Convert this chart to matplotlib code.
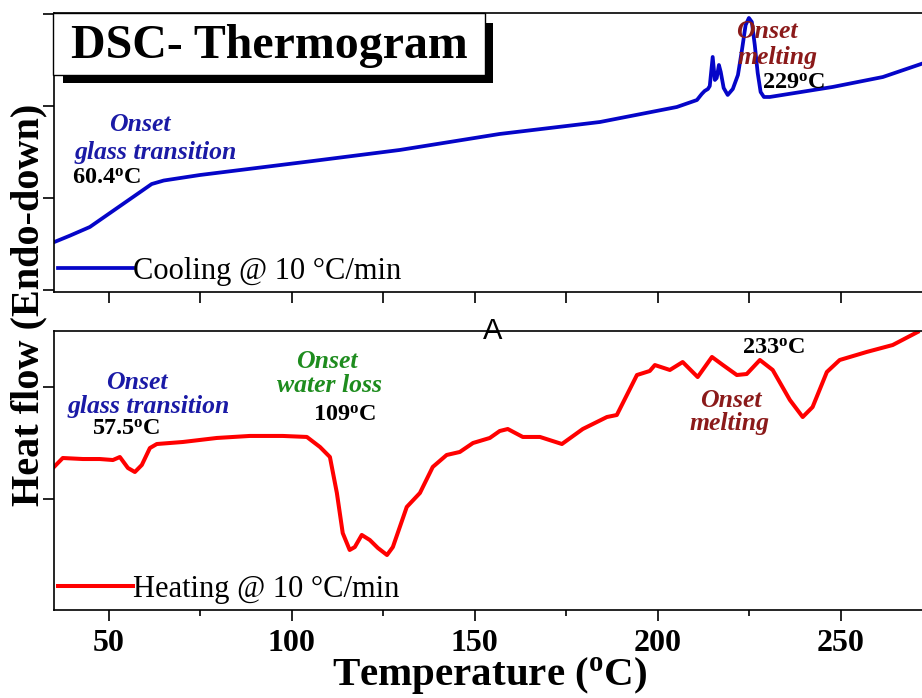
import matplotlib
matplotlib.use("Agg")
import matplotlib.pyplot as plt
from matplotlib.patches import Rectangle
from matplotlib.ticker import MultipleLocator

plt.rcParams['font.family'] = ['Liberation Serif', 'DejaVu Serif']
plt.rcParams['mathtext.fontset'] = 'custom'
plt.rcParams['mathtext.rm'] = 'Liberation Serif:bold'
plt.rcParams['mathtext.bf'] = 'Liberation Serif:bold'
plt.rcParams['mathtext.it'] = 'Liberation Serif:bold:italic'

# cooling curve (top panel), temperature in degC, heat flow in arb. units
cool_t = [35.0, 39.3, 44.8, 50.3, 56.6, 61.7, 65.0, 74.9, 105.7, 129.5, 156.8, 184.2,
          205.2, 210.7, 212.0, 212.8, 213.7, 214.2, 215.0, 215.6, 216.1, 216.7,
          217.2, 218.0, 219.1, 220.5, 221.9, 223.0, 224.0, 224.9, 225.7, 226.5,
          227.3, 228.1, 229.0, 230.6, 247.8, 261.5, 272.2]
cool_h = [0.52, 0.59, 0.685, 0.837, 1.011, 1.152, 1.19, 1.25, 1.402, 1.522, 1.696, 1.826,
          1.989, 2.065, 2.13, 2.163, 2.185, 2.217, 2.533, 2.283, 2.304, 2.446,
          2.37, 2.196, 2.12, 2.185, 2.337, 2.609, 2.88, 2.957, 2.913, 2.663,
          2.359, 2.152, 2.098, 2.098, 2.207, 2.315, 2.46]

# heating curve (bottom panel)
heat_t = [35.0, 37.4, 42.9, 47.5, 51.1, 53.0, 55.2, 57.1, 59.0, 61.2,
          63.1, 70.2, 79.5, 88.5, 97.5, 104.1, 107.7, 110.4, 112.3, 113.9,
          115.8, 117.2, 119.1, 121.3, 123.5, 126.0, 127.6, 131.4, 135.0, 138.5,
          142.3, 145.9, 149.5, 154.1, 156.8, 159.0, 163.1, 167.8, 173.8, 179.5,
          186.1, 188.8, 194.3, 197.8, 199.2, 203.3, 206.8, 210.9, 214.8, 217.8,
          221.6, 224.3, 227.9, 231.4, 236.1, 239.6, 242.3, 246.2, 249.7, 257.1,
          264.2, 271.0]
heat_h = [1.286, 1.366, 1.357, 1.357, 1.348, 1.375, 1.277, 1.241, 1.304, 1.455,
          1.491, 1.509, 1.545, 1.563, 1.563, 1.554, 1.464, 1.375, 1.054, 0.696,
          0.545, 0.571, 0.679, 0.634, 0.563, 0.5, 0.571, 0.929, 1.054, 1.286,
          1.393, 1.42, 1.5, 1.545, 1.607, 1.625, 1.554, 1.554, 1.491, 1.625,
          1.732, 1.75, 2.107, 2.143, 2.196, 2.152, 2.223, 2.089, 2.268, 2.196,
          2.107, 2.116, 2.241, 2.152, 1.884, 1.732, 1.821, 2.134, 2.241, 2.313,
          2.375, 2.491]

x_ticks = [50, 100, 150, 200, 250]
x_lim = (35, 272.2)

W, H = 922, 698
fig = plt.figure(figsize=(W / 100, H / 100), dpi=100)
fig.patch.set_facecolor('white')

def fx(x, y):
    return (x / W, 1 - y / H)

ax1 = fig.add_axes([54 / W, 1 - 292 / H, 868 / W, 279.3 / H])
ax2 = fig.add_axes([54 / W, 1 - 610 / H, 868 / W, 279 / H])

ax1.plot(cool_t, cool_h, color='#0505c8', lw=2.7, solid_joinstyle='round',
         label='Cooling @ 10 °C/min')
ax2.plot(heat_t, heat_h, color='#ff0000', lw=2.9, solid_joinstyle='round',
         label='Heating @ 10 °C/min')

ax1.set_ylim(-0.0217, 3.014)
ax2.set_ylim(0.009, 2.5)

for ax in (ax1, ax2):
    ax.set_xlim(*x_lim)
    ax.set_xticks(x_ticks)
    ax.xaxis.set_minor_locator(MultipleLocator(25))
    ax.yaxis.set_major_locator(MultipleLocator(1))
    ax.set_yticklabels([])
    ax.spines['right'].set_visible(False)
    for s in ('left', 'top', 'bottom'):
        ax.spines[s].set_linewidth(1.2)
    ax.tick_params(axis='y', which='major', direction='out', length=8, width=1.2,
                   right=False)
    ax.tick_params(axis='x', which='both', direction='out', width=1.2, top=False)
    ax.legend(loc='center left', frameon=False, fontsize=22, handlelength=2.45,
              handletextpad=0.0, borderpad=0, borderaxespad=0,
              bbox_to_anchor=(0.0046, 0.075))

ax1.tick_params(axis='x', which='major', length=8, labelbottom=False)
ax1.tick_params(axis='x', which='minor', length=8)
ax2.tick_params(axis='x', which='major', length=8, labelsize=23, pad=6)
ax2.tick_params(axis='x', which='minor', length=4.5)
for lab in ax2.get_xticklabels():
    lab.set_fontweight('bold')

blue_txt = '#1a1aa6'
green_txt = '#1e8c1e'
red_txt = '#8b1a1a'
ann = dict(fontsize=18.5, fontweight='bold', fontstyle='italic', ha='center', va='center')
num = dict(fontsize=17.5, fontweight='bold', color='black', ha='left', va='center')

# top panel annotations
ax1.text(58.5, 1.80, 'Onset', color=blue_txt, **ann)
ax1.text(62.8, 1.49, 'glass transition', color=blue_txt, **ann)
ax1.text(39.9, 1.22, r'60.4$^{\mathrm{o}}$C', **num)
ax1.text(229.8, 2.81, 'Onset', color=red_txt, **ann)
ax1.text(232.8, 2.53, 'melting', color=red_txt, **ann)
ax1.text(228.4, 2.25, r'229$^{\mathrm{o}}$C', **num)

# bottom panel annotations
ax2.text(57.7, 2.04, 'Onset', color=blue_txt, **ann)
ax2.text(60.8, 1.83, 'glass transition', color=blue_txt, **ann)
ax2.text(45.4, 1.62, r'57.5$^{\mathrm{o}}$C', **num)
ax2.text(109.6, 2.23, 'Onset', color=green_txt, **ann)
ax2.text(110.4, 2.01, 'water loss', color=green_txt, **ann)
ax2.text(105.7, 1.75, r'109$^{\mathrm{o}}$C', **num)
ax2.text(222.9, 2.35, r'233$^{\mathrm{o}}$C', **num)
ax2.text(220.0, 1.88, 'Onset', color=red_txt, **ann)
ax2.text(219.7, 1.67, 'melting', color=red_txt, **ann)
ax2.text(154.9, 2.5, 'A', fontsize=21, family='Liberation Sans', ha='center',
         va='center', clip_on=False)

# title box with shadow
x0, y0 = fx(63, 83)
fig.add_artist(Rectangle((x0, y0), 430 / W, 60 / H, transform=fig.transFigure,
                         facecolor='black', edgecolor='none', zorder=5))
x0, y0 = fx(53, 75)
fig.add_artist(Rectangle((x0, y0), 432 / W, 62 / H, transform=fig.transFigure,
                         facecolor='white', edgecolor='black', lw=1.0, zorder=6))
fig.text(*fx(269, 46), 'DSC- Thermogram', fontsize=34.5, fontweight='bold',
         ha='center', va='center', zorder=7)

fig.text(*fx(29, 305), 'Heat flow (Endo-down)', fontsize=29, fontweight='bold',
         rotation=90, ha='center', va='center')
fig.text(*fx(490, 676), r'Temperature ($^{\mathrm{o}}$C)', fontsize=29.5,
         fontweight='bold', ha='center', va='center')

fig.savefig('out.png', dpi=100, facecolor='white')
